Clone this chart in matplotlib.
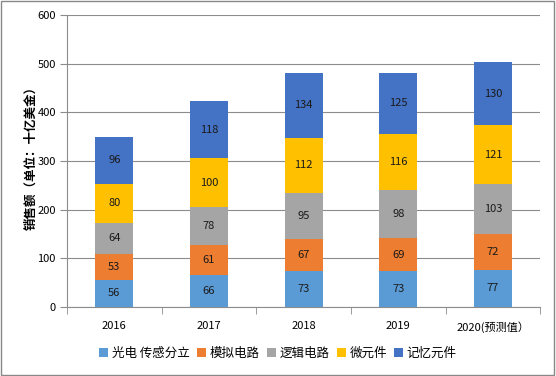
import numpy as np
import matplotlib
matplotlib.use("Agg")
from matplotlib import pyplot as plt
from matplotlib.patches import Rectangle

plt.rcParams['font.family'] = ['Noto Sans CJK SC', 'DejaVu Sans']

years = ["2016", "2017", "2018", "2019", "2020(预测值）"]
series_names = ["光电 传感分立", "模拟电路", "逻辑电路", "微元件", "记忆元件"]
optical = [56, 66, 73, 73, 77]
analog = [53, 61, 67, 69, 72]
logic = [64, 78, 95, 98, 103]
micro = [80, 100, 112, 116, 121]
memory = [96, 118, 134, 125, 130]
colors = ["#5B9BD5", "#ED7D31", "#A5A5A5", "#FFC000", "#4472C4"]

fig = plt.figure(figsize=(5.56, 3.76), dpi=100)
ax = fig.add_axes([0.1205, 0.1835, 0.851, 0.777])

x = np.arange(len(years))
bottom = np.zeros(len(years))
handles = []
for name, vals, c in zip(series_names, [optical, analog, logic, micro, memory], colors):
    vals = np.array(vals)
    bars = ax.bar(x, vals, 0.4, bottom=bottom, color=c, label=name, zorder=3)
    handles.append(bars)
    for xi, b, v in zip(x, bottom, vals):
        ax.text(xi, b + v / 2, str(v), ha='center', va='center', fontsize=8,
                color='#1a1a1a', zorder=4)
    bottom += vals

ax.set_xlim(-0.5, len(years) - 0.5)
ax.set_ylim(0, 600)
ax.set_yticks(range(0, 601, 100))
ax.yaxis.grid(True, color='#8c8c8c', linewidth=0.8, zorder=0)
ax.set_xticks(x)
ax.set_xticklabels(years, fontsize=8)
ax.set_xticks(np.arange(-0.5, len(years)), minor=True)
ax.tick_params(axis='x', which='major', length=0, pad=10)
ax.tick_params(axis='x', which='minor', length=5, color='#8c8c8c')
ax.tick_params(axis='y', length=5, color='#8c8c8c', labelsize=8, pad=3)
for s in ['top', 'right']:
    ax.spines[s].set_visible(False)
for s in ['left', 'bottom']:
    ax.spines[s].set_color('#8c8c8c')
ax.set_ylabel("销售额（单位：十亿美金）", fontsize=9, fontweight='bold')
ax.yaxis.set_label_coords(-0.063, 0.52)

fig.legend(handles=handles, labels=series_names, loc='center', bbox_to_anchor=(0.5, 0.06),
           ncol=5, frameon=False, fontsize=9, handlelength=0.7, handleheight=0.7,
           handletextpad=0.3, columnspacing=0.6)

fig.patches.append(Rectangle((0.002, 0.003), 0.995, 0.994, transform=fig.transFigure,
                             fill=False, edgecolor='#888888', linewidth=1))

fig.savefig("out.png", dpi=100)
